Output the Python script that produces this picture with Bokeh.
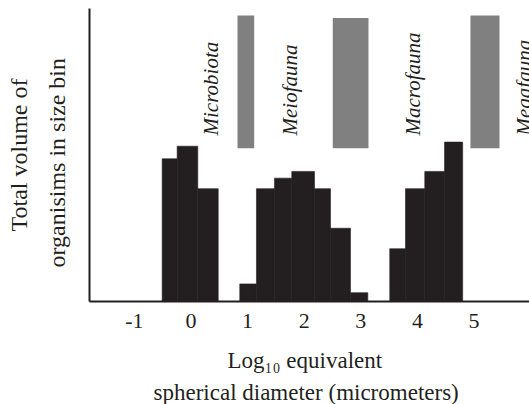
import math
from bokeh.plotting import figure
from bokeh.models import FixedTicker, Range1d, Title
from bokeh.core.properties import value
from bokeh.embed import file_html
from bokeh.resources import INLINE

# ---- data ----
bin_left = [-0.509, -0.244, 0.120, 0.862, 1.157, 1.475, 1.781, 2.182, 2.465, 2.818,
            3.512, 3.790, 4.131, 4.480]
bin_right = [-0.244, 0.120, 0.481, 1.157, 1.475, 1.781, 2.182, 2.465, 2.818, 3.124,
             3.790, 4.131, 4.480, 4.800]
volume = [48.7, 53.0, 38.5, 6.0, 38.5, 42.1, 44.4, 38.5, 25.0, 3.0,
          18.0, 38.5, 44.4, 54.4]

zone_names = ["Microbiota", "Meiofauna", "Macrofauna", "Megafauna"]
zone_x = [0.345, 1.758, 3.931, 5.875]

gap_left = [0.822, 2.505, 4.938]
gap_right = [1.117, 3.136, 5.451]
gap_bottom = [52.3, 52.3, 52.3]
gap_top = [97.6, 96.8, 97.6]

x_ticks = [-1, 0, 1, 2, 3, 4, 5]
x_tick_labels = ["-1", "0", "1", "2", "3", "4", "5"]

x_title = ["Log\u2081\u2080 equivalent", "spherical diameter (micrometers)"]
y_title = ["Total volume of", "organisims in size bin"]

# ---- layout ----
W, H = 529, 404
FL, FR, FT, FB = 89, 529, 8, 301
X0, X1 = -1.793, 5.981
Y0, Y1 = 0.0, 100.0

def py2y(py):
    return Y0 + (FB - py) / (FB - FT) * (Y1 - Y0)

INK = "#231f20"
SERIF = "'Liberation Serif', 'Times New Roman', serif"

p = figure(width=W, height=H, output_backend="svg", toolbar_location=None,
           x_range=Range1d(X0, X1), y_range=Range1d(Y0, Y1),
           min_border_left=FL, min_border_right=W - FR,
           min_border_top=FT, min_border_bottom=H - FB)
p.outline_line_color = None
p.grid.visible = False
p.background_fill_color = "white"
p.border_fill_color = "white"

p.quad(left=bin_left, right=bin_right, bottom=0, top=volume,
       fill_color=INK, line_color=INK, line_width=0.6)
p.quad(left=gap_left, right=gap_right, bottom=gap_bottom, top=gap_top,
       fill_color="#808080", line_color=None)

p.text(x=zone_x, y=[py2y(135)] * len(zone_x), text=zone_names,
       angle=math.pi / 2, text_align="left", text_baseline="middle",
       text_font=value(SERIF), text_font_style="italic",
       text_font_size="21px", text_color=INK)

# axes
p.yaxis.ticker = FixedTicker(ticks=[])
p.yaxis.axis_line_width = 2
p.yaxis.axis_line_color = INK
p.yaxis.major_tick_line_color = None
p.yaxis.minor_tick_line_color = None

p.xaxis.ticker = FixedTicker(ticks=x_ticks)
p.xaxis.major_label_overrides = {t: l for t, l in zip(x_ticks, x_tick_labels)}
p.xaxis.axis_line_width = 2
p.xaxis.axis_line_color = INK
p.xaxis.major_tick_line_color = None
p.xaxis.minor_tick_line_color = None
p.xaxis.major_tick_out = 0
p.xaxis.major_tick_in = 0
p.xaxis.major_label_standoff = 12
p.xaxis.major_label_text_font = SERIF
p.xaxis.major_label_text_font_size = "22px"
p.xaxis.major_label_text_color = INK

def title(text, side, size, standoff, offset):
    p.add_layout(Title(text=text, align="left", text_font=SERIF,
                       text_font_size=size, text_font_style="normal",
                       text_color=INK, standoff=standoff, offset=offset), side)

title(x_title[0], "below", "23px", 30, 138)
title(x_title[1], "below", "23px", -19, 64)
title(y_title[1], "left", "24px", 40, 34)
title(y_title[0], "left", "24px", -21, 70)

open("out.html", "w").write(file_html(p, INLINE))
